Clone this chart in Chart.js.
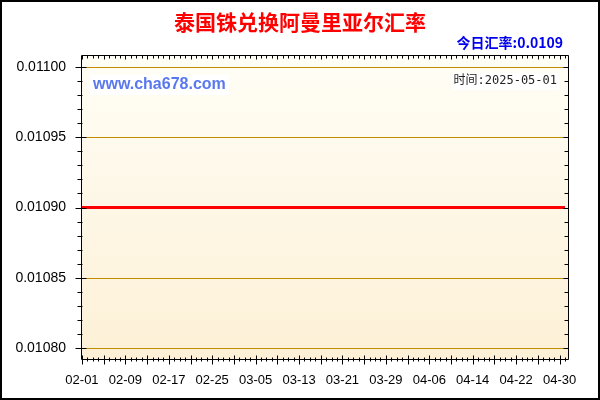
<!DOCTYPE html>
<html>
<head>
<meta charset="utf-8">
<script src="https://cdn.jsdelivr.net/npm/chart.js@4"></script>
<style>
  html, body { margin: 0; padding: 0; background: #fff; }
  canvas { display: block; }
</style>
</head>
<body>
<canvas id="rateChart" width="600" height="400"></canvas>
<script>
// daily rate, 02-01 .. 05-01 (index = days since 02-01)
const rates = [
    0.0109, 0.0109, 0.0109, 0.0109, 0.0109, 0.0109, 0.0109, 0.0109, 0.0109, 0.0109,
    0.0109, 0.0109, 0.0109, 0.0109, 0.0109, 0.0109, 0.0109, 0.0109, 0.0109, 0.0109,
    0.0109, 0.0109, 0.0109, 0.0109, 0.0109, 0.0109, 0.0109, 0.0109, 0.0109, 0.0109,
    0.0109, 0.0109, 0.0109, 0.0109, 0.0109, 0.0109, 0.0109, 0.0109, 0.0109, 0.0109,
    0.0109, 0.0109, 0.0109, 0.0109, 0.0109, 0.0109, 0.0109, 0.0109, 0.0109, 0.0109,
    0.0109, 0.0109, 0.0109, 0.0109, 0.0109, 0.0109, 0.0109, 0.0109, 0.0109, 0.0109,
    0.0109, 0.0109, 0.0109, 0.0109, 0.0109, 0.0109, 0.0109, 0.0109, 0.0109, 0.0109,
    0.0109, 0.0109, 0.0109, 0.0109, 0.0109, 0.0109, 0.0109, 0.0109, 0.0109, 0.0109,
    0.0109, 0.0109, 0.0109, 0.0109, 0.0109, 0.0109, 0.0109, 0.0109, 0.0109, 0.0109
];
const xTickLabels = ['02-01', '02-09', '02-17', '02-25', '03-05', '03-13',
                     '03-21', '03-29', '04-06', '04-14', '04-22', '04-30'];
const xTickStep = 8;
const yTicks = [0.0108, 0.01085, 0.0109, 0.01095, 0.011];

const titleText = '泰国铢兑换阿曼里亚尔汇率';
const todayText = '今日汇率:0.0109';
const timeText = '时间:2025-05-01';
const siteText = 'www.cha678.com';

Chart.defaults.font.family = 'Arial, "Liberation Sans", sans-serif';
Chart.defaults.color = '#000';

// background, gridlines, frame, tick marks and texts
const decorPlugin = {
    id: 'decor',
    beforeDraw(chart) {
        const ctx = chart.ctx;
        const a = chart.chartArea;
        ctx.save();
        ctx.fillStyle = '#fff';
        ctx.fillRect(0, 0, chart.width, chart.height);
        const grad = ctx.createLinearGradient(0, a.top, 0, a.bottom);
        grad.addColorStop(0, '#fffef6');
        grad.addColorStop(1, '#fdf0d6');
        ctx.fillStyle = grad;
        ctx.fillRect(a.left, a.top, a.right - a.left, a.bottom - a.top);
        ctx.restore();
    },
    beforeDatasetsDraw(chart) {
        const ctx = chart.ctx;
        const a = chart.chartArea;
        const ys = chart.scales.y;
        ctx.save();
        ctx.strokeStyle = '#c08c00';
        ctx.lineWidth = 1;
        ctx.beginPath();
        yTicks.forEach(v => {
            const py = Math.round(ys.getPixelForValue(v)) + 0.5;
            ctx.moveTo(a.left, py);
            ctx.lineTo(a.right, py);
        });
        ctx.stroke();
        ctx.restore();
    },
    afterDraw(chart) {
        const ctx = chart.ctx;
        const a = chart.chartArea;
        const xs = chart.scales.x;
        const ys = chart.scales.y;
        const L = Math.round(a.left) + 0.5, R = Math.round(a.right) - 0.5;
        const T = Math.round(a.top) + 0.5, B = Math.round(a.bottom) - 0.5;

        ctx.save();
        ctx.strokeStyle = '#000';
        ctx.lineWidth = 1;
        ctx.beginPath();
        ctx.moveTo(L, T); ctx.lineTo(R, T); ctx.lineTo(R, B); ctx.lineTo(L, B); ctx.closePath();

        // x ticks, one per day, longer every 4 days
        for (let d = 0; d < rates.length; d++) {
            const px = Math.round(xs.getPixelForValue(d)) + 0.5;
            const major = d % 4 === 0;
            ctx.moveTo(px, B - (major ? 4 : 2)); ctx.lineTo(px, B + (major ? 5 : 2));
            ctx.moveTo(px, T); ctx.lineTo(px, T + (major ? 4 : 3));
        }
        // y ticks every 0.00001
        for (let k = 1079; k <= 1101; k++) {
            const v = k / 100000;
            if (v < ys.min || v > ys.max) continue;
            const py = Math.round(ys.getPixelForValue(v)) + 0.5;
            const major = k % 5 === 0;
            ctx.moveTo(L - (major ? 6 : 4), py); ctx.lineTo(L + (major ? 5 : 1), py);
            ctx.moveTo(R - (major ? 5 : 4), py); ctx.lineTo(R, py);
        }
        ctx.stroke();

        // outer border
        ctx.lineWidth = 2;
        ctx.strokeRect(1, 1, chart.width - 2, chart.height - 2);

        // title
        ctx.textBaseline = 'middle';
        ctx.textAlign = 'center';
        ctx.fillStyle = '#ff0000';
        ctx.font = 'bold 21px "Noto Sans CJK SC", sans-serif';
        ctx.fillText(titleText, 300, 22);

        ctx.textAlign = 'right';
        ctx.fillStyle = '#0000ee';
        ctx.font = 'bold 14px "Noto Sans CJK SC", Arial, sans-serif';
        ctx.fillText(todayText, 563, 43);

        // watermark boxes
        ctx.font = 'bold 16px Arial, "Liberation Sans", sans-serif';
        const sw = ctx.measureText(siteText).width;
        ctx.fillStyle = '#fff';
        ctx.fillRect(90, 75, sw + 6, 20);
        ctx.textAlign = 'left';
        ctx.fillStyle = '#5a78ee';
        ctx.fillText(siteText, 93, 85);

        ctx.font = '12px "DejaVu Sans Mono", "Noto Sans CJK SC", monospace';
        const tw = ctx.measureText(timeText).width;
        ctx.fillStyle = '#fff';
        ctx.fillRect(557 - tw - 2, 73, tw + 4, 17);
        ctx.textAlign = 'right';
        ctx.fillStyle = '#222';
        ctx.fillText(timeText, 557, 81);
        ctx.restore();
    }
};

const ctx = document.getElementById('rateChart').getContext('2d');
const rateChart = new Chart(ctx, {
    type: 'line',
    data: {
        datasets: [{
            data: rates.map((v, i) => ({ x: i, y: v })),
            borderColor: '#ff0000',
            borderWidth: 3,
            pointRadius: 0,
            fill: false,
            tension: 0
        }]
    },
    options: {
        responsive: false,
        animation: false,
        devicePixelRatio: 1,
        layout: {
            padding: { left: 0, top: 55, right: 31, bottom: 0 }
        },
        plugins: {
            legend: { display: false },
            tooltip: { enabled: false },
            title: { display: false }
        },
        scales: {
            x: {
                type: 'linear',
                min: -0.18,
                max: 89.74,
                afterFit(scale) { scale.height = 40; },
                afterBuildTicks(scale) {
                    scale.ticks = xTickLabels.map((t, i) => ({ value: i * xTickStep }));
                },
                grid: { display: false, drawTicks: false },
                border: { display: false },
                ticks: {
                    autoSkip: false,
                    maxRotation: 0,
                    padding: 13,
                    font: { size: 13 },
                    callback: (v) => xTickLabels[Math.round(v / xTickStep)]
                }
            },
            y: {
                min: 0.0107915,
                max: 0.0110085,
                afterFit(scale) { scale.width = 81; },
                afterBuildTicks(scale) {
                    scale.ticks = yTicks.map(v => ({ value: v }));
                },
                grid: { display: false, drawTicks: false },
                border: { display: false },
                ticks: {
                    padding: 15,
                    font: { size: 14 },
                    callback: (v) => v.toFixed(5)
                }
            }
        }
    },
    plugins: [decorPlugin]
});
</script>
</body>
</html>
